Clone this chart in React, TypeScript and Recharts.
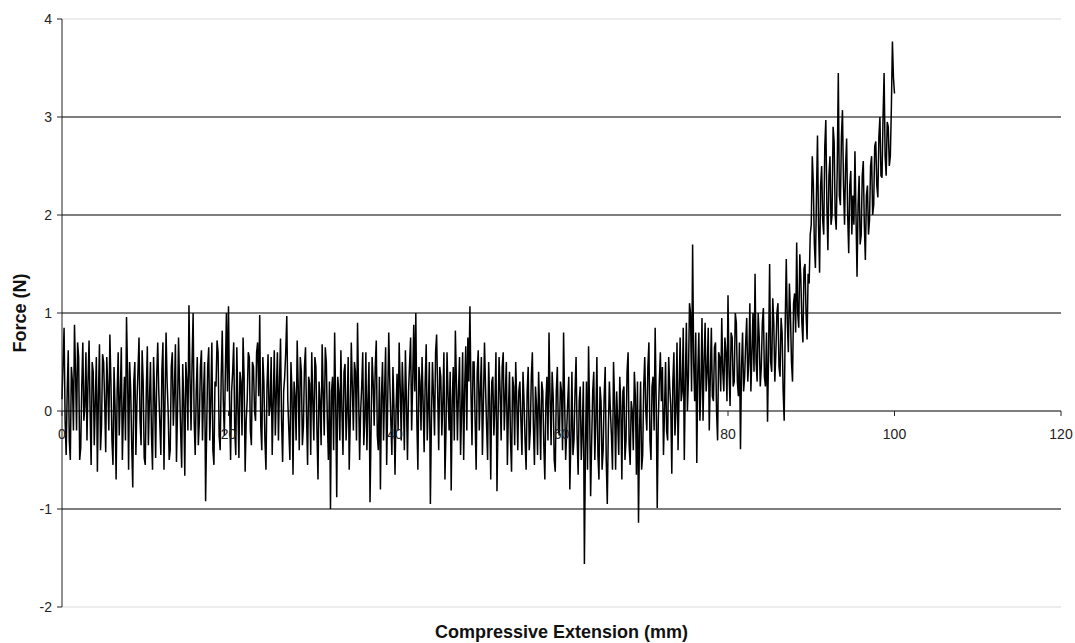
import React from 'react';
import { CartesianGrid, Line, LineChart, ReferenceLine, XAxis, YAxis, Label } from 'recharts';

// force readings (N), sampled every 0.125 mm of compressive extension
const forceFlat = [
  0.12, 0.5, 0.85, -0.1, -0.45, 0.2, 0.62, -0.3, -0.5, 0.45, 0.3, -0.2, 0.88, 0.4, -0.2, 0.7, 0.55, -0.5, -0.38, 0.25,
  0.7, -0.1, 0.05, 0.6, -0.3, 0.3, 0.72, 0.0, -0.55, 0.5, 0.4, -0.35, 0.1, 0.55, -0.62, 0.15, 0.68, -0.4, -0.15, 0.58,
  0.5, 0.1, -0.42, 0.55, 0.25, -0.2, 0.78, 0.3, -0.3, -0.55, 0.45, 0.05, -0.7, 0.2, 0.6, -0.25, 0.15, 0.65, -0.5, 0.0,
  0.35, -0.3, 0.96, 0.4, -0.6, 0.5, 0.22, -0.35, -0.78, 0.3, 0.5, -0.45, 0.08, 0.4, 0.75, -0.1, -0.35, 0.62, 0.3, -0.48,
  -0.55, 0.2, 0.66, -0.35, 0.1, 0.5, -0.25, -0.6, 0.55, 0.15, -0.48, 0.35, 0.7, 0.2, -0.12, -0.45, 0.42, 0.7, -0.6, 0.1,
  0.8, 0.3, 0.0, -0.5, -0.4, 0.45, 0.6, -0.15, 0.2, 0.68, -0.52, 0.0, 0.75, 0.25, -0.2, -0.58, 0.48, 0.1, -0.66, 0.5,
  0.3, -0.2, 1.08, 0.35, -0.2, 0.5, 1.0, -0.1, -0.45, 0.2, 0.55, -0.35, -0.1, 0.45, 0.62, -0.3, 0.18, 0.5, -0.92, -0.2,
  0.45, 0.65, -0.3, 0.1, 0.7, -0.4, -0.55, 0.3, 0.25, 0.72, 0.6, -0.25, -0.4, 0.35, 0.82, 0.1, -0.25, 0.4, 1.0, 0.2,
  1.07, 0.1, -0.5, 0.2, 0.4, 0.7, -0.2, -0.45, 0.65, 0.05, -0.48, 0.4, 0.3, -0.25, 0.75, 0.35, -0.62, -0.1, 0.12, 0.6,
  0.55, -0.2, -0.35, 0.5, 0.45, 0.0, -0.1, 0.6, 0.7, 0.15, 0.98, -0.15, -0.4, 0.55, 0.3, -0.3, -0.6, 0.25, 0.58, -0.05,
  0.05, 0.55, -0.45, 0.1, 0.62, -0.25, 0.2, 0.6, -0.3, 0.3, 0.74, -0.1, -0.52, 0.2, 0.35, 0.6, 0.97, 0.1, -0.2, -0.5,
  0.5, 0.2, -0.65, 0.3, 0.15, -0.3, 0.72, 0.25, -0.4, 0.55, 0.4, -0.35, -0.15, 0.45, 0.65, -0.05, -0.55, 0.35, 0.28, -0.45,
  0.6, 0.1, -0.3, 0.55, 0.45, -0.2, -0.7, 0.3, 0.1, -0.35, 0.68, 0.2, -0.25, 0.65, 0.5, -0.1, -0.5, 0.3, -1.0, 0.2,
  0.35, -0.4, 0.8, 0.1, -0.88, 0.35, 0.2, -0.3, 0.62, 0.0, -0.45, 0.4, 0.48, -0.3, 0.0, 0.55, -0.6, -0.1, 0.7, 0.25,
  -0.2, 0.5, 0.4, -0.3, 0.9, 0.2, -0.5, 0.0, 0.25, 0.6, -0.35, -0.1, 0.6, -0.4, 0.1, 0.5, -0.93, -0.2, 0.55, 0.3,
  -0.15, 0.45, 0.72, -0.25, -0.4, 0.35, -0.8, 0.15, 0.5, -0.3, 0.2, 0.65, -0.55, 0.1, 0.8, 0.3, -0.1, -0.45, 0.45, 0.05,
  -0.65, 0.0, 0.38, -0.2, 0.7, 0.25, -0.3, 0.5, 0.15, -0.4, 0.62, 0.1, -0.5, 0.2, 0.48, 0.75, -0.2, 0.3, 0.88, 0.2,
  1.0, -0.1, -0.6, 0.45, 0.3, -0.2, 0.55, 0.1, -0.42, 0.3, 0.68, -0.3, 0.05, 0.5, -0.95, -0.1, 0.5, 0.15, -0.25, 0.6,
  0.78, 0.2, -0.4, 0.45, 0.35, -0.25, 0.1, 0.6, -0.7, -0.2, 0.6, 0.15, -0.2, 0.4, -0.81, 0.1, 0.45, -0.3, 0.82, 0.3,
  -0.3, 0.2, 0.55, -0.45, 0.0, 0.6, -0.5, 0.25, 0.66, -0.2, 0.75, 0.3, 1.07, 0.2, -0.35, 0.5, 0.5, -0.1, -0.6, 0.4,
  0.62, -0.2, 0.2, 0.55, -0.45, 0.1, 0.7, 0.25, -0.15, -0.5, 0.5, 0.1, -0.7, 0.3, 0.35, -0.25, 0.05, 0.6, -0.82, -0.1,
  0.55, 0.2, -0.3, 0.45, 0.6, -0.2, 0.15, 0.5, -0.55, 0.0, 0.4, -0.3, -0.62, 0.35, 0.25, -0.35, 0.5, 0.1, -0.4, 0.2,
];

const forceDip = [
  0.3, -0.1, -0.45, 0.4, 0.1, -0.3, -0.6, 0.2, 0.45, -0.4, -0.2, 0.35, 0.6, -0.15, -0.55, 0.25, 0.05, -0.45, 0.4, 0.0,
  -0.5, 0.3, 0.2, -0.35, -0.7, 0.1, 0.35, -0.3, 0.8, 0.15, -0.35, 0.4, 0.15, -0.5, -0.62, 0.2, 0.45, -0.2, -0.25, 0.3,
  0.2, -0.4, 0.8, 0.1, -0.5, -0.2, 0.1, 0.35, -0.8, -0.3, 0.4, -0.45, -0.3, 0.2, 0.55, -0.25, -0.65, 0.1, 0.25, -0.5,
  -0.2, 0.3, -1.56, -0.4, 0.3, -0.6, 0.66, 0.0, -0.87, -0.3, 0.2, 0.4, -0.5, -0.1, 0.55, -0.45, -0.7, 0.25, 0.1, -0.6,
  -0.4, 0.15, 0.45, -0.5, -0.95, -0.2, 0.3, 0.0, -0.25, -0.6, 0.5, 0.1, -0.6, 0.2, -0.1, -0.45, 0.35, 0.05, -0.7, 0.2,
  0.25, -0.5, -0.3, 0.4, 0.6, -0.35, -0.55, 0.1, 0.0, -0.4, 0.4, 0.15, -0.65, 0.3, -1.14, -0.2, 0.3, -0.6, -0.45, 0.25,
  0.55, 0.0, -0.2, 0.45, 0.7, -0.3, -0.5, 0.25, 0.35, -0.2, 0.85, 0.1, -0.99, -0.1, 0.3, 0.6,
];

const forceRise = [
  0.1, 0.45, -0.45, 0.0, 0.5, -0.2, -0.3, 0.55, 0.25, 0.05, -0.64, 0.3, 0.6, -0.25, 0.0, 0.7, -0.4, 0.2, 0.75, 0.1,
  0.2, 0.85, -0.5, 0.3, 0.9, 0.0, 0.35, 1.1, 1.0, 0.2, 1.7, 0.5, 0.1, 0.8, -0.53, 0.4, 0.8, -0.1, 0.25, 0.95,
  -0.1, 0.5, 0.9, 0.2, 0.4, 0.85, -0.2, 0.35, 0.85, 0.15, 0.1, 0.65, 0.7, 0.0, -0.3, 0.6, 0.55, 0.2, 0.95, 0.4,
  0.2, 0.75, 0.6, 0.1, 1.18, 0.4, 0.05, 0.8, 0.75, 0.25, 0.3, 1.0, 0.9, 0.3, 0.15, 0.7, -0.39, 0.45, 0.8, 0.2,
  0.35, 0.7, 0.95, 0.3, 0.5, 1.1, 0.2, 0.6, 1.0, 0.4, 1.4, 0.5, 0.3, 1.0, 0.75, 0.25, 0.45, 0.9, 1.05, 0.35,
  0.25, 0.8, -0.11, 0.6, 1.5, 0.5, 0.4, 1.15, 0.9, 0.3, 0.6, 1.0, 1.1, 0.45, 0.35, 0.95, 0.8, 0.2, -0.1, 0.9,
  1.55, 0.9, 0.6, 1.3, 1.0, 0.5, 0.3, 1.1, 1.2, 0.8, 1.72, 1.0, 0.85, 1.6, 1.35, 0.9, 0.7, 1.45, 1.5, 1.0,
  0.73, 1.4, 1.3, 1.8,
];

const forcePeak = [
  1.9, 2.6, 2.32, 1.7, 1.46, 2.2, 2.81, 1.9, 1.41, 2.3, 2.5, 1.95, 1.8, 2.7, 2.97, 2.1, 1.64, 2.4, 2.6, 1.9,
  2.0, 2.9, 2.75, 2.0, 1.85, 2.5, 3.45, 2.2, 2.1, 2.8, 3.07, 2.3, 1.9, 2.5, 2.78, 2.0, 1.61, 2.3, 2.45, 1.8,
  2.2, 1.9, 2.65, 2.0, 1.37, 2.1, 2.4, 1.7, 1.8, 2.4, 2.55, 1.9, 1.54, 2.2, 2.3, 1.8, 1.95, 2.5, 2.6, 2.0,
  2.1, 2.7, 2.75, 2.3, 2.18, 2.8, 3.0, 2.4, 2.38, 3.0, 3.45, 2.6, 2.4, 2.95, 2.9, 2.5, 2.6, 3.1, 3.77, 3.4,
  3.24,
];

const STEP_MM = 0.125;
const xTicks = [0, 20, 40, 60, 80, 100, 120];
const yTicks = [-2, -1, 0, 1, 2, 3, 4];
const darkLines = [-1, 0, 1, 2, 3];

const force = [...forceFlat, ...forceDip, ...forceRise, ...forcePeak];
const data = force.map((f, i) => ({ ext: i * STEP_MM, force: f }));

const FONT = '"Liberation Sans", Arial, sans-serif';
// x axis sits on the zero line, not on the bottom of the plot
const ZERO_SHIFT = 196;

function ZeroAxisTick(props: any) {
  const { x, y, payload } = props;
  const y0 = y - ZERO_SHIFT;
  return (
    <g>
      <line x1={x} x2={x} y1={y0} y2={y0 + 5} stroke="#222" />
      <text x={x} y={y0 + 28} textAnchor="middle" fontSize={14} fill="#222" fontFamily={FONT}>
        {payload.value}
      </text>
    </g>
  );
}

export default function App() {
  return (
    <div style={{ position: 'absolute', left: 0, top: 0, width: 1075, height: 643, background: '#fff' }}>
      <LineChart width={1075} height={643} data={data} margin={{ top: 19, right: 14, left: 0, bottom: 0 }}>
        <CartesianGrid vertical={false} stroke="#d9d9d9" />
        {darkLines.map((v) => (
          <ReferenceLine key={v} y={v} stroke="#111" strokeWidth={1} />
        ))}
        <XAxis
          dataKey="ext"
          type="number"
          domain={[0, 120]}
          ticks={xTicks}
          axisLine={false}
          tickLine={false}
          tickSize={0}
          tickMargin={0}
          height={36}
          tick={<ZeroAxisTick />}
          interval={0}
        >
          <Label
            value="Compressive Extension (mm)"
            position="insideBottom"
            offset={5}
            style={{ fontFamily: FONT, fontWeight: 'bold', fontSize: 18, fill: '#111' }}
          />
        </XAxis>
        <YAxis
          type="number"
          domain={[-2, 4]}
          ticks={yTicks}
          width={62}
          stroke="#222"
          tickSize={5}
          tickMargin={5}
          interval={0}
          tick={{ fontSize: 14, fill: '#222', fontFamily: FONT }}
        >
          <Label
            value="Force (N)"
            angle={-90}
            position="insideLeft"
            offset={20}
            style={{ fontFamily: FONT, fontWeight: 'bold', fontSize: 18, fill: '#111', textAnchor: 'middle' }}
          />
        </YAxis>
        <Line
          type="linear"
          dataKey="force"
          stroke="#000"
          strokeWidth={1.5}
          dot={false}
          activeDot={false}
          isAnimationActive={false}
        />
      </LineChart>
    </div>
  );
}
